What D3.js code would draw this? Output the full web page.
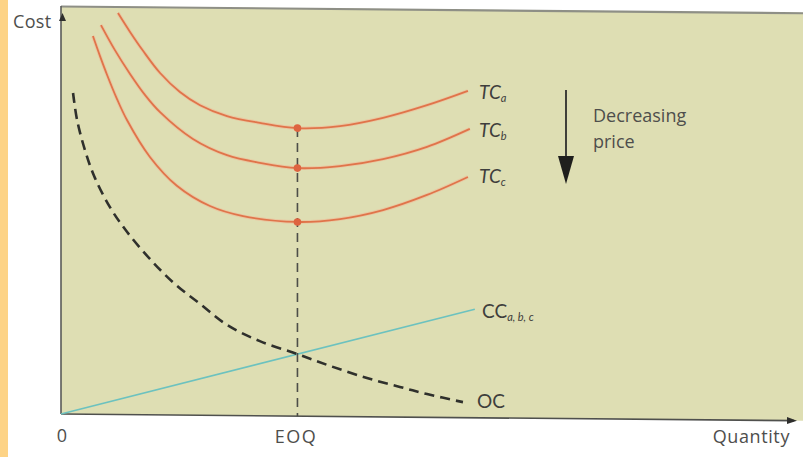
<!DOCTYPE html>
<html>
<head>
<meta charset="utf-8">
<script src="https://cdn.jsdelivr.net/npm/d3@7"></script>
<style>
  html, body { margin: 0; padding: 0; background: #ffffff; }
  svg { display: block; }
  text { font-family: "Open Sans", Lato, sans-serif; fill: #4e4e4c; }
  text.curve-label { font-family: Lato, "Open Sans", sans-serif; fill: #3e3e3c; }
</style>
</head>
<body>
<svg id="chart" width="803" height="457"></svg>
<script>
// Quantity (x) and cost (y) domains, in arbitrary units
const quantityDomain = [0, 310];
const costDomain = [0, 100];
const eoqQuantity = 100;

// Total-cost curves for three price levels: [quantity, cost]
const tcA = [[24.1, 98.4], [29.2, 93.8], [34.7, 89.2], [41.9, 83.8], [50.3, 79.2], [58.8, 76.0], [70.2, 73.4], [84.1, 71.8], [100, 70.6], [118, 71.2], [136.2, 73.3], [154.8, 76.5], [172.1, 80.1]];
const tcB = [[16.9, 95.4], [22.8, 89.3], [29.2, 83.5], [35.5, 78.4], [41.9, 74.2], [55.8, 67.7], [70.2, 63.8], [84.1, 62.0], [100, 60.8], [118, 61.4], [136.2, 63.2], [154.8, 66.3], [172.9, 70.8]];
const tcC = [[13.5, 92.7], [16.5, 87.8], [19.5, 83.2], [23.7, 77.3], [27.9, 72.2], [37.6, 63.2], [49.0, 56.2], [63.0, 51.3], [77.0, 48.9], [100, 47.6], [118, 48.4], [136.2, 50.7], [154.8, 54.5], [172.1, 59.0]];

// Ordering cost (falls with quantity) and carrying cost (rises linearly)
const orderingCost = [[5.1, 78.7], [6.8, 72.1], [10.1, 64.8], [14.0, 58.4], [20.7, 50.8], [27.9, 44.8], [37.6, 38.2], [48.2, 32.1], [58.8, 27.3], [70.2, 22.2], [84.1, 18.3], [100, 15.2], [113.7, 12.4], [129.4, 9.5], [143.3, 7.4], [154.8, 5.7], [170, 3.8]];
const carryingCost = [[0, 0], [175, 26.6]];

// Cost at the EOQ for each total-cost curve
const eoqCosts = [70.6, 60.8, 47.6];

// Text
const tcNames = ["TC", "TC", "TC"];
const tcSubs = ["a", "b", "c"];
const axisLabels = { y: "Cost", x: "Quantity" };
const xTickLabels = ["0", "EOQ"];
const noteLines = ["Decreasing", "price"];

const svg = d3.select("#chart");

// orange page margin strip
svg.append("rect").attr("x", 0).attr("y", 0).attr("width", 8).attr("height", 457).attr("fill", "#fdd386");

const plotW = 745, plotH = 408;
const x = d3.scaleLinear().domain(quantityDomain).range([0, 733]);
const y = d3.scaleLinear().domain(costDomain).range([plotH, 0]);

// the printed figure sits slightly tilted on the page
const g = svg.append("g").attr("transform", "translate(61,6) skewY(0.52)");

g.append("rect").attr("x", 0).attr("y", 0).attr("width", plotW).attr("height", plotH).attr("fill", "#dedeb3");

// frame: top rule, cost axis, quantity axis
g.append("line").attr("x1", 0).attr("x2", plotW).attr("y1", 0.5).attr("y2", 0.5)
  .attr("stroke", "#8e8f86").attr("stroke-width", 2.2);
g.append("line").attr("x1", 0).attr("x2", 0).attr("y1", 0).attr("y2", plotH)
  .attr("stroke", "#5a5b58").attr("stroke-width", 1.6);
g.append("line").attr("x1", 0).attr("x2", x(310)).attr("y1", plotH).attr("y2", plotH)
  .attr("stroke", "#4f504d").attr("stroke-width", 1.6);
// axis arrowheads
g.append("path").attr("d", `M${x(310)+3},${plotH} l-10,-3.5 l0,7 z`).attr("fill", "#2e2e2c");
g.append("path").attr("d", `M1.5,${7} l-3.5,8 l7,0 z`).attr("fill", "#2e2e2c");

const line = d3.line().x(d => x(d[0])).y(d => y(d[1])).curve(d3.curveCatmullRom.alpha(0.5));

// carrying cost
g.append("path").datum(carryingCost).attr("d", d3.line().x(d => x(d[0])).y(d => y(d[1])))
  .attr("fill", "none").attr("stroke", "#6cc2bf").attr("stroke-width", 1.6);

// ordering cost
g.append("path").datum(orderingCost).attr("d", line)
  .attr("fill", "none").attr("stroke", "#2f302c").attr("stroke-width", 2.6)
  .attr("stroke-dasharray", "10,6");

// EOQ guide
g.append("line").attr("x1", x(eoqQuantity)).attr("x2", x(eoqQuantity))
  .attr("y1", y(eoqCosts[0])).attr("y2", plotH)
  .attr("stroke", "#4d4e48").attr("stroke-width", 1.6).attr("stroke-dasharray", "9,6");

// total cost curves
[tcA, tcB, tcC].forEach(series => {
  g.append("path").datum(series).attr("d", line)
    .attr("fill", "none").attr("stroke", "#f2b693").attr("stroke-width", 3.6).attr("opacity", 0.55);
  g.append("path").datum(series).attr("d", line)
    .attr("fill", "none").attr("stroke", "#e0744a").attr("stroke-width", 1.8);
});
g.selectAll("circle.eoq").data(eoqCosts).join("circle").attr("class", "eoq")
  .attr("cx", x(eoqQuantity)).attr("cy", d => y(d)).attr("r", 3.8).attr("fill", "#de6440");

// labels (page coordinates)
svg.append("text").attr("x", 13).attr("y", 28).attr("font-size", 18).attr("letter-spacing", 0.3).text(axisLabels.y);
svg.append("text").attr("x", 790).attr("y", 443).attr("font-size", 18).attr("letter-spacing", 0.6).attr("text-anchor", "end").text(axisLabels.x);
svg.append("text").attr("x", 62).attr("y", 442).attr("font-size", 18).attr("text-anchor", "middle").text(xTickLabels[0]);
svg.append("text").attr("x", 296).attr("y", 443).attr("font-size", 18).attr("letter-spacing", 1.5).attr("text-anchor", "middle").text(xTickLabels[1]);

const tcBase = [99, 137, 183];
tcNames.forEach((name, i) => {
  const t = svg.append("text").attr("class", "curve-label").attr("x", 479).attr("y", tcBase[i]).attr("font-size", 19).attr("font-style", "italic");
  t.append("tspan").text(name);
  t.append("tspan").attr("font-size", 11).attr("dy", 3).text(tcSubs[i]);
});

const cc = svg.append("text").attr("class", "curve-label").attr("x", 482).attr("y", 318).attr("font-size", 19);
cc.append("tspan").text("CC");
cc.append("tspan").attr("font-size", 11).attr("font-style", "italic").attr("dy", 3).text("a, b, c");
svg.append("text").attr("class", "curve-label").attr("x", 477).attr("y", 408).attr("font-size", 19).text("OC");

// price note with downward arrow
svg.append("line").attr("x1", 566).attr("x2", 566).attr("y1", 90).attr("y2", 160)
  .attr("stroke", "#2e2e2c").attr("stroke-width", 1.8);
svg.append("path").attr("d", "M558,156 L574,156 L566,184 Z").attr("fill", "#1f1f1d");
noteLines.forEach((s, i) => {
  svg.append("text").attr("x", 593).attr("y", 122 + i * 26).attr("font-size", 18).text(s);
});
</script>
</body>
</html>
